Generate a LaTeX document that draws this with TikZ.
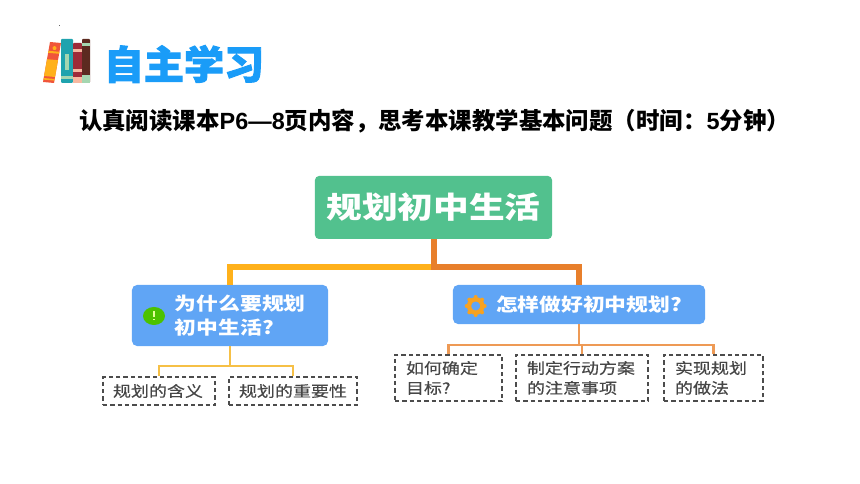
\documentclass[tikz,border=0pt]{standalone}
\usepackage{fontspec}
\usepackage{xcolor}
\setmainfont{Noto Sans CJK SC}
\newfontfamily\widefont[FakeStretch=1.2]{Noto Sans CJK SC}
\newfontfamily\leaffont[FakeStretch=1.2,FakeBold=0.5]{Noto Sans CJK SC}
\newfontfamily\headfont[FakeStretch=1.02,BoldFeatures={FakeBold=2.5}]{Noto Sans CJK SC}
\newfontfamily\latinfont{Liberation Sans}
\definecolor{pgreen}{RGB}{82,193,142}
\definecolor{pblue}{RGB}{96,165,245}
\definecolor{pyellow}{RGB}{255,177,27}
\definecolor{porange}{RGB}{232,127,43}
\definecolor{pthinyellow}{RGB}{246,192,70}
\definecolor{pthinorange}{RGB}{238,154,85}
\definecolor{pheading}{RGB}{26,156,248}
\definecolor{pleaftext}{RGB}{70,70,70}
\definecolor{bookred}{RGB}{240,85,58}
\definecolor{bookteal}{RGB}{31,163,174}
\definecolor{bookwine}{RGB}{158,43,56}
\definecolor{bookbrown}{RGB}{92,42,32}
\definecolor{bookmint}{RGB}{165,214,176}
\definecolor{bookpink}{RGB}{247,184,160}
\tikzstyle{root} = [rectangle, minimum width=7.11cm, minimum height=1.89cm, rounded corners=0.12cm, fill=pgreen, text=white, font=\widefont\fontsize{25.4}{30}\selectfont\bfseries, inner sep=0pt]
\tikzstyle{topic} = [rectangle, minimum height=1.17cm, rounded corners=0.15cm, fill=pblue, text=white, align=left, font=\widefont\fontsize{15.5}{20.5}\selectfont\bfseries, inner sep=0pt]
\tikzstyle{leaf} = [rectangle, minimum height=0.84cm, draw=black!70, line width=0.055cm, dash pattern=on 0.13cm off 0.09cm, text=pleaftext, align=left, font=\leaffont\fontsize{12.8}{17}\selectfont, inner sep=0pt]
\tikzstyle{trunk} = [line width=0.18cm]
\tikzstyle{twig} = [line width=0.07cm]
\newcommand{\topicgap}{\hspace*{1.29cm}}

\begin{document}
\begin{tikzpicture}[x=0.03cm, y=-0.03cm]
\useasboundingbox (0,0) rectangle (860,484);
\fill[black!60] (59,25) rectangle (59.8,26.5);

% Book icon
\fill[bookred] (50,42) -- (61,43) -- (54,83) -- (43,82) -- cycle;
\fill[pyellow] (47,59.2) -- (58,60.2) -- (55.05,77) -- (44.05,76) -- cycle;
\fill[pyellow] (48.46,50.8) -- (59.46,51.8) -- (59.11,53.8) -- (48.11,52.8) -- cycle;
\fill[pyellow] (43.7,78) -- (54.7,79) -- (54.42,80.6) -- (43.42,79.6) -- cycle;
\fill[pyellow] (54.5,48.1) circle (0.06cm);
\fill[bookteal, rounded corners=0.03cm] (61,39) rectangle (73,83);
\fill[bookmint] (65,54) rectangle (69,70);
\fill[bookmint] (61,76) rectangle (73,79);
\fill[bookwine, rounded corners=0.03cm] (73,43) rectangle (82,83);
\fill[bookpink] (73,49) rectangle (82,52);
\fill[bookpink] (73,69) rectangle (82,72);
\fill[bookpink] (73,77) rectangle (82,83);
\fill[bookbrown, rounded corners=0.03cm] (82,39) rectangle (90,83);
\fill[bookmint] (82,43) rectangle (90,46);
\fill[bookmint] (82,75) rectangle (90,83);

% Heading and question
\node[text=pheading, font=\headfont\fontsize{33.5}{36}\selectfont\bfseries, inner sep=0pt] (heading) at (184,64) {自主学习};
\node[font=\fontsize{20}{24}\selectfont\bfseries, inner sep=0pt] (question) at (434.5,121) {认真阅读课本{\latinfont P6—8}页内容，思考本课教学基本问题（时间：{\latinfont 5}分钟）};

% Root and topics
\node[root] (plan) at (433.5,207.5) {规划初中生活};
\node[topic, minimum width=5.88cm, minimum height=1.83cm, text width=5.88cm] (why) at (230,315.5) {\topicgap 为什么要规划\\\topicgap 初中生活?};
\node[topic, minimum width=7.56cm, text width=7.56cm] (how) at (579,304.5) {\topicgap 怎样做好初中规划?};

% Leaves
\node[leaf, minimum width=3.36cm, text width=2.76cm] (meaning) at (159,391) {规划的含义};
\node[leaf, minimum width=3.84cm, text width=3.24cm] (importance) at (293,391) {规划的重要性};
\node[leaf, minimum width=3.21cm, minimum height=1.38cm, text width=2.55cm] (goal) at (448.5,378) {如何确定\\目标?};
\node[leaf, minimum width=3.96cm, minimum height=1.38cm, text width=3.3cm] (action) at (582,378) {制定行动方案\\的注意事项};
\node[leaf, minimum width=2.97cm, minimum height=1.38cm, text width=2.31cm] (practice) at (713.5,378) {实现规划\\的做法};

% Connectors
\coordinate (planjoin) at (433.5,267);
\coordinate (whyjoin) at (230,366);
\coordinate (howjoin) at (579,345);
\draw[trunk, pyellow] (planjoin) -| (why.north);
\draw[trunk, porange] (plan.south) -- (planjoin) -| (how.north);
\draw[twig, pthinyellow] (why.south) -- (whyjoin) -| (meaning.north);
\draw[twig, pthinyellow] (whyjoin) -| (importance.north);
\draw[twig, pthinorange] (how.south) -- (howjoin) -| (goal.north);
\draw[twig, pthinorange] (howjoin) -| (action.north);
\draw[twig, pthinorange] (howjoin) -| (practice.north);

% Topic icons
\fill[green!60!black!60!lime] (154,316) ellipse (0.33cm and 0.27cm);
\fill[white!60!lime] (153.4,311) rectangle (154.6,317.5);
\fill[white!60!lime] (153.4,319) rectangle (154.6,320.5);
\begin{scope}[shift={(475.7,306)}]
\foreach \a in {0,45,...,315}
  \fill[pyellow!70!porange] (\a:0.27cm) circle (0.06cm);
\draw[pyellow!70!porange, line width=0.13cm] (0,0) circle (0.2cm);
\end{scope}
\end{tikzpicture}
\end{document}
